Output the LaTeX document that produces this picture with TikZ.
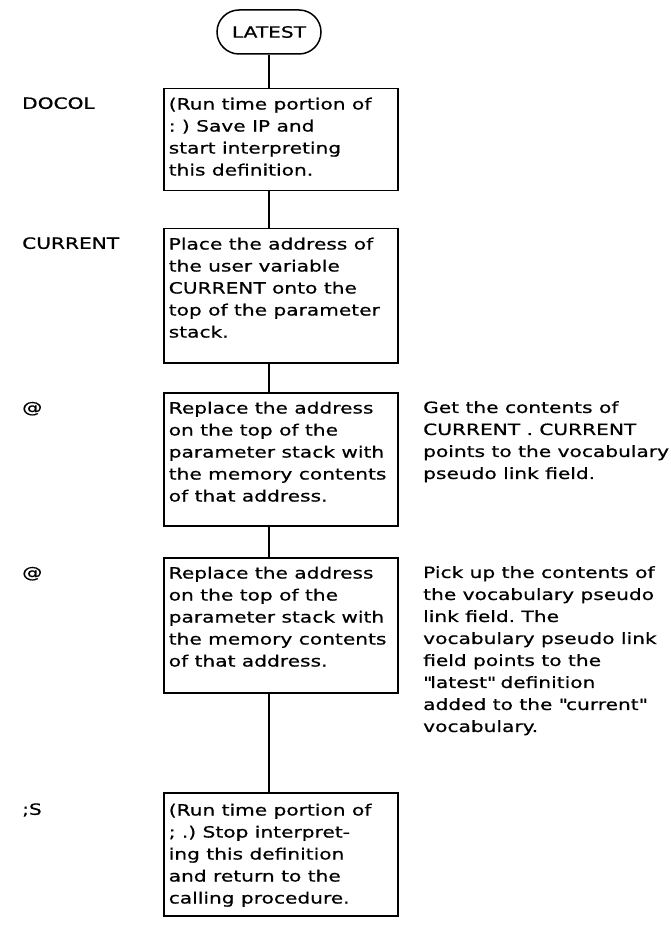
\documentclass[tikz,border=0pt]{standalone}
\usepackage{fontspec}
\setmainfont{DejaVu Sans}[FakeStretch=1.3,FakeBold=0.6]
\usetikzlibrary{shapes.misc}
\newcommand{\bodyfont}{\fontsize{15.5pt}{22pt}\selectfont\frenchspacing}
\newcommand{\boxtxt}[2]{\parbox[t][#1][t]{224pt}{\raggedright #2}}
\tikzset{
  stepbox/.style={draw, line width=1.5pt, inner xsep=5pt, inner ysep=9pt, anchor=north west, font=\bodyfont},
  leftlabel/.style={anchor=base west, inner sep=0pt, font=\bodyfont},
  note/.style={anchor=north west, inner sep=0pt, align=left, font=\bodyfont},
  term/.style={draw, line width=1.5pt, rounded rectangle, minimum width=104pt, minimum height=44pt, inner sep=0pt, font=\bodyfont},
  link/.style={line width=1.6pt}
}
\begin{document}
\begin{tikzpicture}[x=1pt,y=-1pt]
\useasboundingbox (0,0) rectangle (670,925);
\fill[white] (0,0) rectangle (670,925);

\node[term] (latest) at (269,32) {LATEST};

\node[stepbox] (b1) at (163,88) {\boxtxt{84pt}{(Run time portion of\\ : ) Save IP and\\ start interpreting\\ this definition.}};
\node[stepbox] (b2) at (163,228) {\boxtxt{116pt}{Place the address of\\ the user variable\\ CURRENT onto the\\ top of the parameter\\ stack.}};
\node[stepbox] (b3) at (163,392) {\boxtxt{115pt}{Replace the address\\ on the top of the\\ parameter stack with\\ the memory contents\\ of that address.}};
\node[stepbox] (b4) at (163,557) {\boxtxt{117pt}{Replace the address\\ on the top of the\\ parameter stack with\\ the memory contents\\ of that address.}};
\node[stepbox, inner ysep=11pt] (b5) at (163,792) {\boxtxt{101pt}{(Run time portion of\\ ; .) Stop interpret-\\ ing this definition\\ and return to the\\ calling procedure.}};

\node[leftlabel] (l1) at (22,108.8) {DOCOL};
\node[leftlabel] (l2) at (22,248.8) {CURRENT};
\node[leftlabel] (l3) at (22,412.8) {@};
\node[leftlabel] (l4) at (22,577.8) {@};
\node[leftlabel] (l5) at (22,814.8) {;S};

\node[note] (n3) at (423,401) {Get the contents of\\ CURRENT . CURRENT\\ points to the vocabulary\\ pseudo link field.};
\node[note] (n4) at (423,566) {Pick up the contents of\\ the vocabulary pseudo\\ link field. The\\ vocabulary pseudo link\\ field points to the\\ \textquotedbl latest\textquotedbl{} definition\\ added to the \textquotedbl current\textquotedbl\\ vocabulary.};

\draw[link] (latest.south) -- (latest.south |- b1.north);
\draw[link] (b1.south -| latest.south) -- (b2.north -| latest.south);
\draw[link] (b2.south -| latest.south) -- (b3.north -| latest.south);
\draw[link] (b3.south -| latest.south) -- (b4.north -| latest.south);
\draw[link] (b4.south -| latest.south) -- (b5.north -| latest.south);
\end{tikzpicture}
\end{document}
